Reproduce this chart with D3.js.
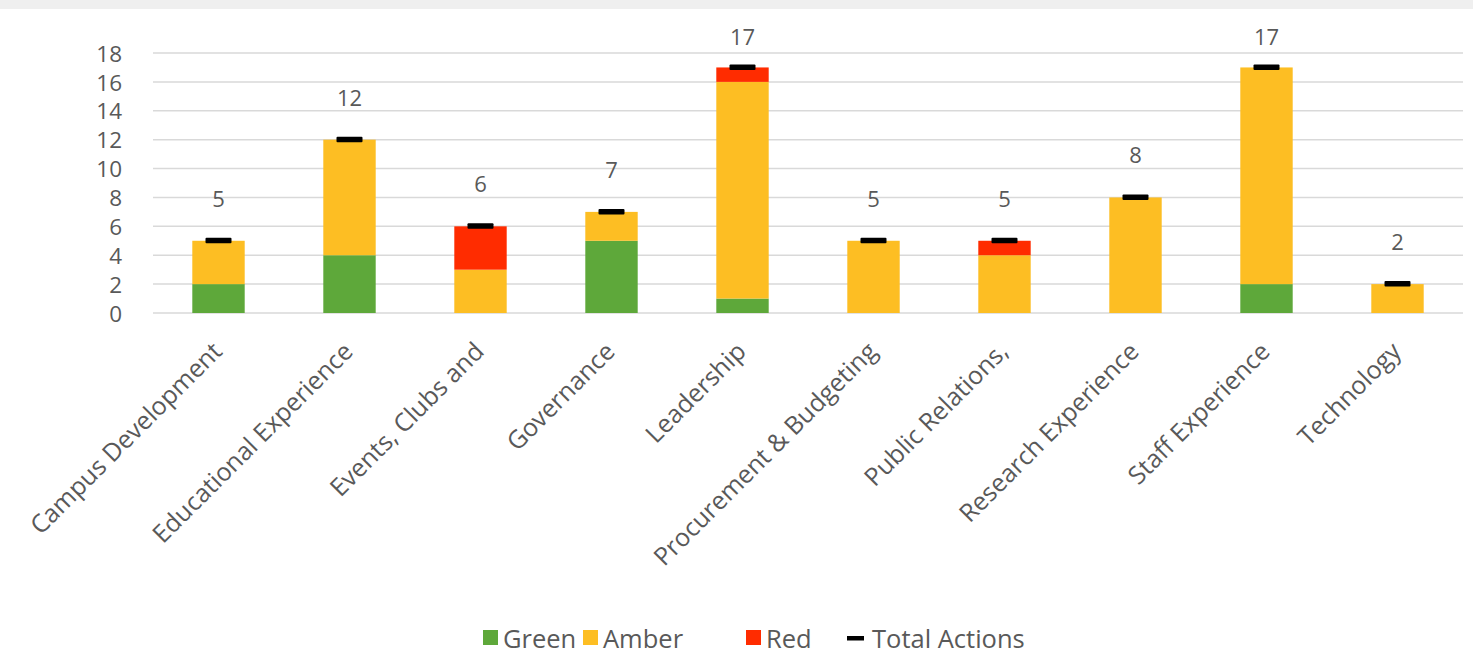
<!DOCTYPE html>
<html>
<head>
<meta charset="utf-8">
<script src="https://cdn.jsdelivr.net/npm/d3@7"></script>
<style>
    body { margin: 0; background: #fff; }
    #chart { width: 1473px; height: 656px; }
    text { font-family: "Open Sans", "Noto Sans", sans-serif; fill: #595959; }
</style>
</head>
<body>
<div id="chart"></div>
<script>
// chart data
const categories = [
    'Campus Development', 'Educational Experience', 'Events, Clubs and', 'Governance',
    'Leadership', 'Procurement & Budgeting', 'Public Relations,', 'Research Experience',
    'Staff Experience', 'Technology'
];
const green = [2, 4, 0, 5, 1, 0, 0, 0, 2, 0];
const amber = [3, 8, 3, 2, 15, 5, 4, 8, 15, 2];
const red = [0, 0, 3, 0, 1, 0, 1, 0, 0, 0];
const totalActions = [5, 12, 6, 7, 17, 5, 5, 8, 17, 2];
const yTicks = [0, 2, 4, 6, 8, 10, 12, 14, 16, 18];

const seriesKeys = ['Green', 'Amber', 'Red'];
const colors = { Green: '#5ea83a', Amber: '#fdbe23', Red: '#ff2c00' };

const width = 1473, height = 656;
const margin = { left: 153, right: 10, top: 53 };
const plotBottom = 313;

const svg = d3.select('#chart').append('svg')
    .attr('width', width)
    .attr('height', height);

// light grey band at top
svg.append('rect')
    .attr('x', 0).attr('y', 0)
    .attr('width', width).attr('height', 9)
    .attr('fill', '#efefef');

const x = d3.scaleBand()
    .domain(categories)
    .range([margin.left, 1463])
    .paddingInner(0.6)
    .paddingOuter(0.3);

const y = d3.scaleLinear()
    .domain([0, 18])
    .range([plotBottom, margin.top]);

// gridlines
svg.append('g')
    .selectAll('line')
    .data(yTicks)
    .enter()
    .append('line')
    .attr('x1', margin.left)
    .attr('x2', 1463)
    .attr('y1', d => y(d))
    .attr('y2', d => y(d))
    .attr('stroke', '#d9d9d9')
    .attr('stroke-width', 1.5);

// y axis labels
const yAxis = svg.append('g')
    .attr('transform', `translate(${margin.left - 31},1)`)
    .call(d3.axisLeft(y).tickValues(yTicks).tickSize(0).tickPadding(0));
yAxis.select('.domain').remove();
yAxis.selectAll('text')
    .attr('font-size', 22.5)
    .attr('fill', '#595959');

// stacked bars
const rows = categories.map((c, i) => ({ cat: c, Green: green[i], Amber: amber[i], Red: red[i] }));
const stacked = d3.stack().keys(seriesKeys)(rows);

svg.append('g')
    .selectAll('g')
    .data(stacked)
    .enter()
    .append('g')
    .attr('fill', d => colors[d.key])
    .selectAll('rect')
    .data(d => d)
    .enter()
    .append('rect')
    .attr('x', d => x(d.data.cat))
    .attr('y', d => y(d[1]))
    .attr('width', x.bandwidth())
    .attr('height', d => y(d[0]) - y(d[1]));

// total markers
svg.append('g')
    .selectAll('rect')
    .data(totalActions)
    .enter()
    .append('rect')
    .attr('x', (d, i) => x(categories[i]) + x.bandwidth() / 2 - 13)
    .attr('y', d => y(d) - 3)
    .attr('width', 26)
    .attr('height', 5.5)
    .attr('rx', 1)
    .attr('fill', '#000');

// total labels (kept inside the chart area at the top)
svg.append('g')
    .selectAll('text')
    .data(totalActions)
    .enter()
    .append('text')
    .attr('x', (d, i) => x(categories[i]) + x.bandwidth() / 2)
    .attr('y', d => Math.max(y(d) - 42, 37))
    .attr('dy', '0.36em')
    .attr('text-anchor', 'middle')
    .attr('font-size', 22)
    .text(d => d);

// x axis labels, rotated
svg.append('g')
    .selectAll('text')
    .data(categories)
    .enter()
    .append('text')
    .attr('transform', d => `translate(${x(d) + x.bandwidth() / 2 + 5},${plotBottom + 40}) rotate(-45)`)
    .attr('text-anchor', 'end')
    .attr('font-size', 25)
    .text(d => d);

// legend
const legendItems = [
    { label: 'Green', x: 483, type: 'box' },
    { label: 'Amber', x: 583, type: 'box' },
    { label: 'Red', x: 746, type: 'box' },
    { label: 'Total Actions', x: 847, type: 'line' }
];
const legend = svg.append('g');
legendItems.forEach(item => {
    if (item.type === 'box') {
        legend.append('rect')
            .attr('x', item.x).attr('y', 630)
            .attr('width', 15).attr('height', 15)
            .attr('fill', colors[item.label]);
    } else {
        legend.append('rect')
            .attr('x', item.x).attr('y', 636)
            .attr('width', 17).attr('height', 4.5)
            .attr('fill', '#000');
    }
    legend.append('text')
        .attr('x', item.x + (item.type === 'box' ? 20 : 25))
        .attr('y', 648)
        .attr('font-size', 25.5)
        .text(item.label);
});
</script>
</body>
</html>
